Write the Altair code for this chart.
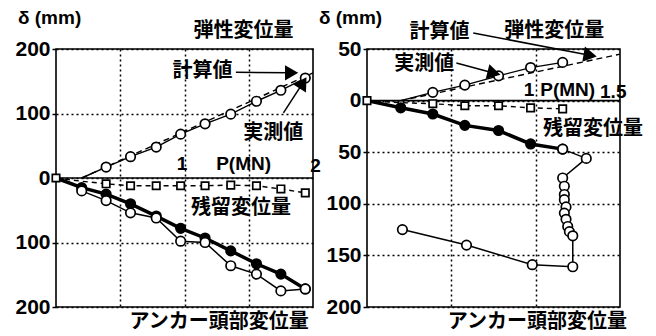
import altair as alt
import pandas as pd

# ---------------- Left panel (load up to 2 MN) ----------------
L_P = [0.2, 0.39, 0.58, 0.78, 0.97, 1.16, 1.36, 1.56, 1.75, 1.94]
L_elastic = [0, 17, 33, 48, 68, 84, 99, 119, 136, 155]
L_calc_P = [0.2, 2.0]
L_calc = [0, 163]
L_resid = [-5, -9, -12, -12, -12, -12, -11, -12, -17, -23]
L_head_a = [-15, -25, -40, -59, -78, -93, -113, -133, -149, -172]
L_head_b = [-20, -35, -54, -62, -98, -100, -136, -149, -175, -172]

# ---------------- Right panel (load up to 1.5 MN) ----------------
R_P = [0.2, 0.39, 0.58, 0.78, 0.97, 1.16]
R_elastic = [0, 8, 15, 24, 32, 37]
R_calc_P = [0.2, 1.5]
R_calc = [0, 45]
R_resid = [-2, -3, -5, -5, -7, -8]
R_head_load = [-7, -13, -24, -29, -42, -47]
R_after_P = [1.16, 1.30, 1.16, 1.17, 1.17, 1.17, 1.18, 1.17, 1.18, 1.19, 1.20, 1.22, 1.22, 0.98, 0.59, 0.21]
R_after = [-47, -56, -75, -83, -91, -96, -103, -109, -115, -122, -127, -131, -161, -159, -140, -125]

JP_FONT = "Noto Sans CJK JP"
LAT_FONT = "Liberation Sans"


def df(xs, ys):
    return pd.DataFrame({"P": xs, "d": ys, "i": list(range(len(xs)))})


def panel(xmax, ymin, ymax, width, height, xgrid, label_step,
          lines, points, jp_texts, lat_texts, arrows):
    xs = alt.Scale(domain=[0, xmax], nice=False, zero=False)
    ys = alt.Scale(domain=[ymin, ymax], nice=False, zero=False)

    def X(ax=None):
        if ax is None:
            return alt.X("P:Q", scale=xs, title=None)
        return alt.X("P:Q", scale=xs, axis=ax, title=None)

    def Y(ax=None):
        if ax is None:
            return alt.Y("d:Q", scale=ys, title=None)
        return alt.Y("d:Q", scale=ys, axis=ax, title=None)

    xaxis = alt.Axis(values=xgrid, grid=True, labels=False, ticks=False,
                     domain=False, gridDash=[2, 3], gridColor="black",
                     gridWidth=1.5, gridOpacity=1)
    yaxis = alt.Axis(values=list(range(ymin, ymax + 1, 50)),
                     labelExpr=f"datum.value % {label_step} == 0 ? abs(datum.value) : ''",
                     grid=True, gridDash=[2, 3], gridColor="black",
                     gridWidth=1.5, gridOpacity=1, domain=False,
                     tickSize=4, tickColor="black", tickWidth=1.5,
                     labelFont=LAT_FONT, labelFontSize=21,
                     labelFontWeight="bold", labelColor="black",
                     labelPadding=2, labelFlush=False, labelOverlap=False)

    layers = []
    zero = alt.Chart(df([0, xmax], [0, 0])).mark_line(
        color="black", strokeWidth=1.6).encode(
        x=X(xaxis), y=Y(yaxis), order="i:Q")
    layers.append(zero)

    for (xv, yv, sw, dash) in lines:
        mk = dict(color="black", strokeWidth=sw)
        if dash:
            mk["strokeDash"] = dash
        layers.append(alt.Chart(df(xv, yv)).mark_line(**mk).encode(
            x=X(), y=Y(), order="i:Q"))

    for (xv, yv, shape, fill, size) in points:
        layers.append(alt.Chart(df(xv, yv)).mark_point(
            shape=shape, filled=True, fill=fill, stroke="black",
            strokeWidth=1.7, size=size, opacity=1).encode(x=X(), y=Y()))

    for (x1, y1, x2, y2, shape, ang) in arrows:
        layers.append(alt.Chart(df([x1, x2], [y1, y2])).mark_line(
            color="black", strokeWidth=1.5).encode(x=X(), y=Y(), order="i:Q"))
        layers.append(alt.Chart(df([x2], [y2])).mark_point(
            shape=shape, angle=ang, filled=True, fill="black",
            stroke="black", size=140, opacity=1).encode(x=X(), y=Y()))

    jp = pd.DataFrame(jp_texts, columns=["P", "d", "t", "s"])
    layers.append(alt.Chart(jp).mark_text(
        font=JP_FONT, fontWeight="bold", color="black", baseline="middle",
        align="center").encode(x=X(), y=Y(), text="t:N",
                               size=alt.Size("s:Q", scale=None, legend=None)))
    lat = pd.DataFrame(lat_texts, columns=["P", "d", "t", "a"])
    for a in ["left", "center"]:
        sub = lat[lat["a"] == a]
        if len(sub):
            layers.append(alt.Chart(sub).mark_text(
                font=LAT_FONT, fontWeight="bold", fontSize=19, color="black",
                baseline="middle", align=a).encode(x=X(), y=Y(), text="t:N"))

    return alt.layer(*layers).properties(width=width, height=height)


left = panel(
    2.0, -200, 200, 257, 258, [0.5, 1.0, 1.5], 100,
    lines=[
        (L_P, L_elastic, 1.4, None),
        (L_calc_P, L_calc, 1.4, [6, 4]),
        ([0] + L_P, [0] + L_resid, 1.4, [5, 4]),
        ([0] + L_P, [0] + L_head_a, 3.5, None),
        (L_P, L_head_b, 1.5, None),
    ],
    points=[
        (L_P[1:], L_elastic[1:], "circle", "white", 90),
        ([0] + L_P[1:], [0] + L_resid[1:], "square", "white", 55),
        (L_P, L_head_a, "circle", "black", 90),
        (L_P, L_head_b, "circle", "white", 90),
    ],
    jp_texts=[
        (1.46, 228, "弾性変位量", 20),
        (1.14, 166, "計算値", 20),
        (1.69, 70, "実測値", 20),
        (1.44, -47, "残留変位量", 20),
        (1.27, -223, "アンカー頭部変位量", 20),
    ],
    lat_texts=[
        (0.98, 22, "1", "center"),
        (1.46, 22, "P(MN)", "center"),
        (2.02, 19, "2", "center"),
        (-0.296, 248, "δ (mm)", "left"),
    ],
    arrows=[
        (1.40, 164, 1.83, 163, "triangle-right", 0),
        (1.77, 101, 1.92, 147, "triangle-up", 32),
    ],
)

right = panel(
    1.5, -200, 50, 253, 258, [0.5, 1.0], 50,
    lines=[
        (R_P, R_elastic, 1.4, None),
        (R_calc_P, R_calc, 1.4, [6, 4]),
        ([0] + R_P, [0] + R_resid, 1.4, [5, 4]),
        ([0] + R_P, [0] + R_head_load, 3.5, None),
        (R_after_P, R_after, 1.5, None),
    ],
    points=[
        (R_P[1:], R_elastic[1:], "circle", "white", 90),
        ([0] + R_P[1:], [0] + R_resid[1:], "square", "white", 55),
        (R_P, R_head_load, "circle", "black", 90),
        (R_after_P, R_after, "circle", "white", 90),
    ],
    jp_texts=[
        (1.11, 67.5, "弾性変位量", 20),
        (0.43, 66.5, "計算値", 20),
        (0.34, 35.4, "実測値", 20),
        (1.34, -27.7, "残留変位量", 20),
        (1.01, -215, "アンカー頭部変位量", 20),
    ],
    lat_texts=[
        (0.96, 10, "1", "center"),
        (1.19, 10, "P(MN)", "center"),
        (1.46, 8, "1.5", "center"),
        (-0.285, 80, "δ (mm)", "left"),
    ],
    arrows=[
        (0.63, 65.5, 1.32, 44, "triangle-right", 10),
        (0.53, 36.4, 0.75, 26.7, "triangle-right", 14),
    ],
)

chart = alt.hconcat(left, right, spacing=54, bounds="flush").properties(
    padding={"left": 6, "top": 0, "right": 2, "bottom": 0}
).configure(background="white").configure_view(stroke="black", strokeWidth=1.6)

chart.save("out.html", embed_options={"renderer": "svg", "actions": False})
